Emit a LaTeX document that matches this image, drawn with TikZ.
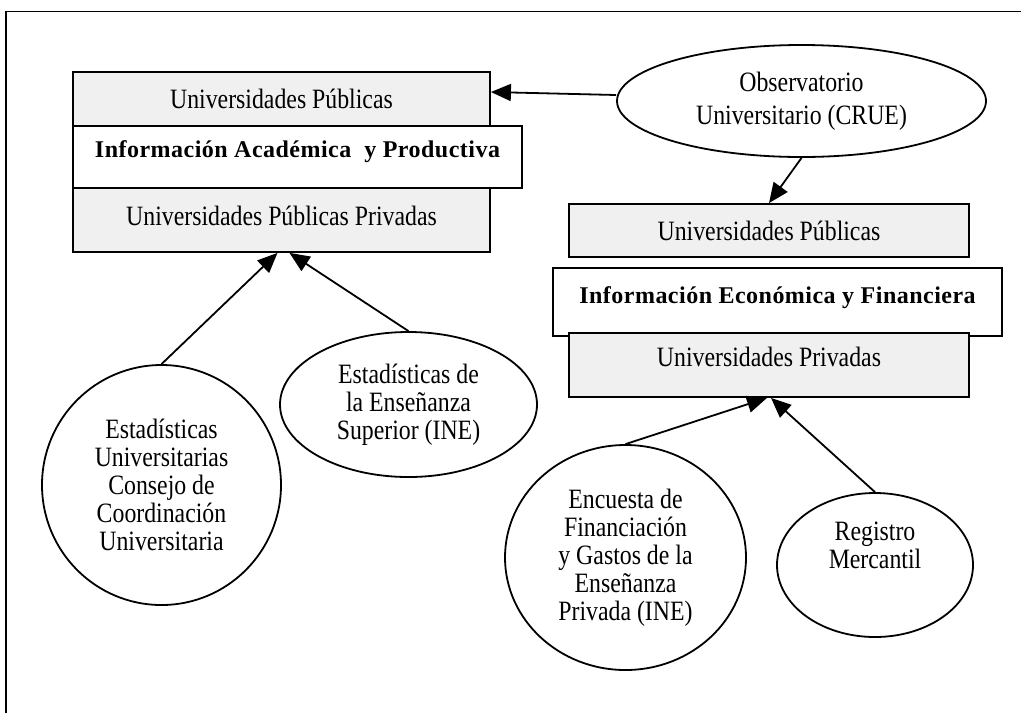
\documentclass[tikz,border=0pt]{standalone}
\usepackage{fontspec}
\setmainfont[FakeStretch=0.85]{Liberation Serif}
\newfontfamily\titlefont[LetterSpace=2]{Liberation Serif}
\usetikzlibrary{arrows.meta,shapes.geometric}
\definecolor{uniGray}{RGB}{240,240,240}
\newcommand\lift[2]{\raisebox{#1}[\height][\depth]{#2}}

\begin{document}
\begin{tikzpicture}[x=0.5pt,y=-0.5pt,
    font=\fontsize{14}{14}\selectfont,
    box/.style={draw, line width=0.9pt, inner sep=0pt, minimum width=208.5pt, minimum height=27pt},
    grayBox/.style={box, fill=uniGray},
    titleBox/.style={box, minimum width=224.5pt, font={\titlefont\fontsize{12}{14}\selectfont\bfseries}},
    source/.style={draw, ellipse, line width=0.9pt, inner sep=0pt, align=center},
    arrow/.style={line width=0.9pt, -{Triangle[length=10pt,width=8.5pt]}}]
    \useasboundingbox (0,0) rectangle (1021,713);
    \draw[line width=0.8pt] (6,713) -- (6,11.5) -- (1021,11.5);
    % left: academic data
    \node[titleBox, minimum height=31pt] (acad) at (297.5,157) {\lift{2.5pt}{Información Académica\ \ y Productiva}};
    \node[grayBox] (pub1) at (281.5,99) {Universidades Públicas};
    \node[grayBox, minimum height=32pt] (priv1) at (281.5,220) {\lift{2pt}{Universidades Públicas Privadas}};
    % right: economic data
    \node[titleBox, minimum height=34pt] (econ) at (777.5,302) {\lift{2pt}{Información Económica y Financiera}};
    \node[grayBox, minimum width=200pt, minimum height=26.5pt] (pub2) at (769,230.5) {Universidades Públicas};
    \node[grayBox, minimum width=200pt, minimum height=32pt] (priv2) at (769,365) {\lift{4pt}{Universidades Privadas}};
    % sources
    \node[source, minimum width=184.5pt, minimum height=56pt, font={\fontsize{14}{16.5}\selectfont}] (obs) at (801.5,101) {Observatorio\\Universitario (CRUE)};
    \node[source, minimum width=119.5pt, minimum height=120pt] (ccu) at (161.5,485) {Estadísticas\\Universitarias\\Consejo de\\Coordinación\\Universitaria};
    \node[source, minimum width=128.5pt, minimum height=72.5pt] (ine1) at (408.5,404.5) {Estadísticas de\\la Enseñanza\\Superior (INE)};
    \node[source, minimum width=120.5pt, minimum height=112.5pt] (ine2) at (625.5,557.5) {Encuesta de\\Financiación\\y Gastos de la\\Enseñanza\\Privada (INE)};
    \node[source, minimum width=98pt, minimum height=72pt] (reg) at (875,565) {\lift{8pt}{\begin{tabular}{@{}c@{}}Registro\\Mercantil\end{tabular}}};
    % arrows
    \draw[arrow] ([yshift=3pt]obs.west) -- ([yshift=3.5pt]pub1.east);
    \draw[arrow] (obs.south) -- (pub2.north);
    \draw[arrow] (ccu.north) -- ([xshift=-2pt]priv1.south);
    \draw[arrow] (ine1.north) -- ([xshift=4pt]priv1.south);
    \draw[arrow] (ine2.north) -- ([xshift=-1pt]priv2.south);
    \draw[arrow] (reg.north) -- ([xshift=1pt]priv2.south);
\end{tikzpicture}
\end{document}
